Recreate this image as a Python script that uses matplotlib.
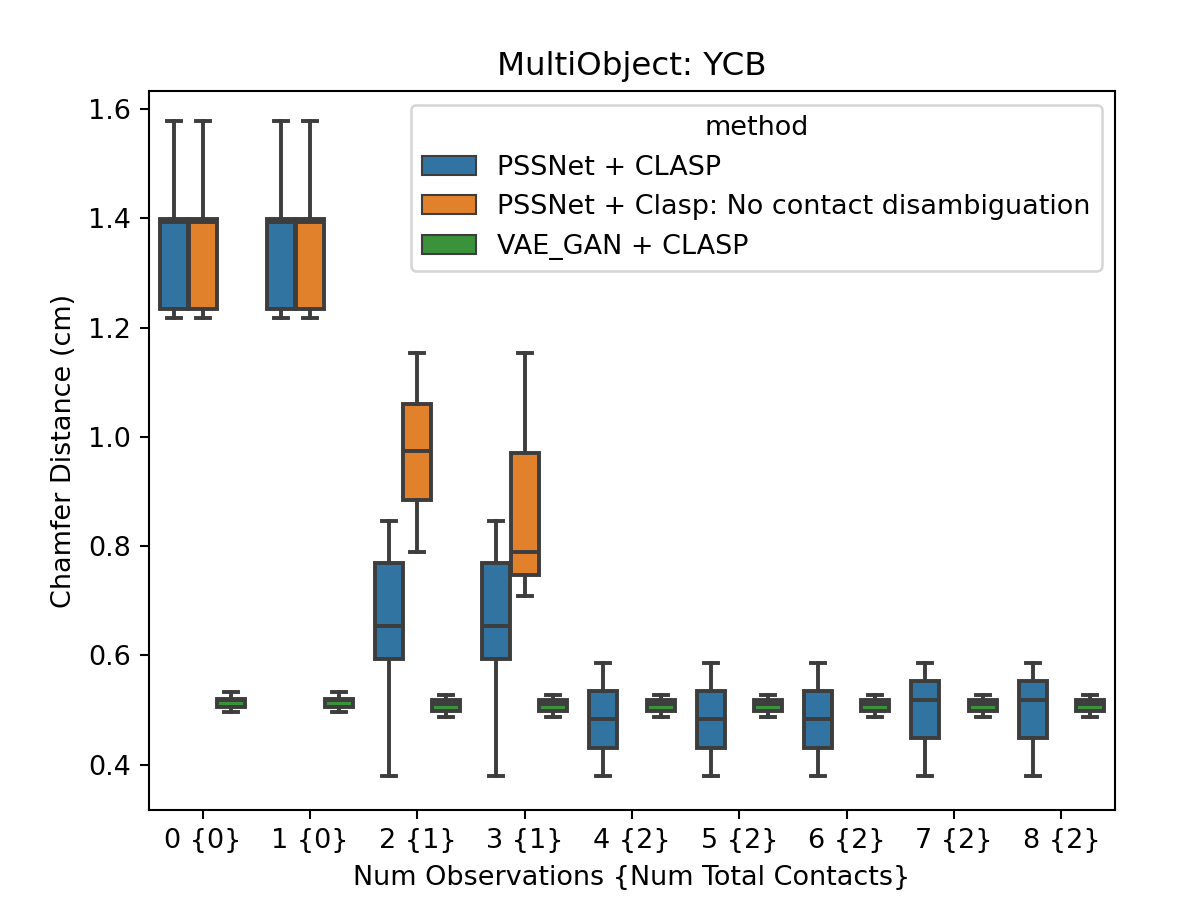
import numpy as np
import matplotlib.pyplot as plt
from matplotlib.patches import Patch

groups = ['0 {0}', '1 {0}', '2 {1}', '3 {1}', '4 {2}', '5 {2}', '6 {2}', '7 {2}', '8 {2}']
methods = ['PSSNet + CLASP', 'PSSNet + Clasp: No contact disambiguation', 'VAE_GAN + CLASP']
colors = ['#3274a1', '#e1812c', '#3a923a']
gray = '#3d3d3d'

# box summaries, one value per group
# PSSNet + CLASP
pss_lo  = [1.218, 1.218, 0.380, 0.380, 0.380, 0.380, 0.380, 0.380, 0.380]
pss_q1  = [1.234, 1.234, 0.594, 0.594, 0.430, 0.430, 0.430, 0.449, 0.449]
pss_med = [1.394, 1.394, 0.654, 0.654, 0.484, 0.484, 0.484, 0.519, 0.519]
pss_q3  = [1.398, 1.398, 0.769, 0.769, 0.535, 0.535, 0.535, 0.553, 0.553]
pss_hi  = [1.578, 1.578, 0.846, 0.846, 0.586, 0.586, 0.586, 0.586, 0.586]

# PSSNet + Clasp: No contact disambiguation (only groups 0-3)
noc_lo  = [1.218, 1.218, 0.790, 0.708]
noc_q1  = [1.234, 1.234, 0.885, 0.748]
noc_med = [1.394, 1.394, 0.974, 0.790]
noc_q3  = [1.398, 1.398, 1.060, 0.971]
noc_hi  = [1.578, 1.578, 1.154, 1.154]

# VAE_GAN + CLASP
vae_lo  = [0.496, 0.496, 0.487, 0.487, 0.487, 0.487, 0.487, 0.487, 0.487]
vae_q1  = [0.505, 0.505, 0.498, 0.498, 0.498, 0.498, 0.498, 0.498, 0.498]
vae_med = [0.518, 0.518, 0.511, 0.511, 0.511, 0.511, 0.511, 0.511, 0.511]
vae_q3  = [0.521, 0.521, 0.518, 0.518, 0.518, 0.518, 0.518, 0.518, 0.518]
vae_hi  = [0.533, 0.533, 0.528, 0.528, 0.528, 0.528, 0.528, 0.528, 0.528]

series = [
    (pss_lo, pss_q1, pss_med, pss_q3, pss_hi),
    (noc_lo, noc_q1, noc_med, noc_q3, noc_hi),
    (vae_lo, vae_q1, vae_med, vae_q3, vae_hi),
]

plt.rcParams['font.size'] = 10.4

fig = plt.figure(figsize=(1196 / 187, 913 / 187), dpi=187)
ax = fig.add_axes([0.1246, 0.1128, 0.8077, 0.7875])

n_hue = len(methods)
each = 0.8 / n_hue
offsets = np.linspace(-0.4 + each / 2, 0.4 - each / 2, n_hue)
lw = 1.5

for k, (lo, q1, med, q3, hi) in enumerate(series):
    stats = []
    for i in range(len(lo)):
        stats.append({'whislo': lo[i], 'q1': q1[i], 'med': med[i],
                      'q3': q3[i], 'whishi': hi[i], 'fliers': []})
    pos = np.arange(len(lo)) + offsets[k]
    ax.bxp(stats, positions=pos, widths=each * 0.98, patch_artist=True,
           showfliers=False, manage_ticks=False,
           boxprops=dict(facecolor=colors[k], edgecolor=gray, linewidth=lw),
           whiskerprops=dict(color=gray, linewidth=lw),
           capprops=dict(color=gray, linewidth=lw),
           medianprops=dict(color=gray, linewidth=lw))

ax.set_xticks(np.arange(len(groups)))
ax.set_xticklabels(groups)
ax.set_xlim(-0.5, len(groups) - 0.5)
ax.set_ylim(0.317, 1.633)
ax.set_yticks([0.4, 0.6, 0.8, 1.0, 1.2, 1.4, 1.6])

ax.set_title('MultiObject: YCB', fontsize=12.5)
ax.set_xlabel('Num Observations {Num Total Contacts}')
ax.set_ylabel('Chamfer Distance (cm)')

handles = [Patch(facecolor=c, edgecolor=gray, linewidth=0.8) for c in colors]
ax.legend(handles, methods, title='method', loc='upper right')

fig.savefig('out.png', dpi=187)
